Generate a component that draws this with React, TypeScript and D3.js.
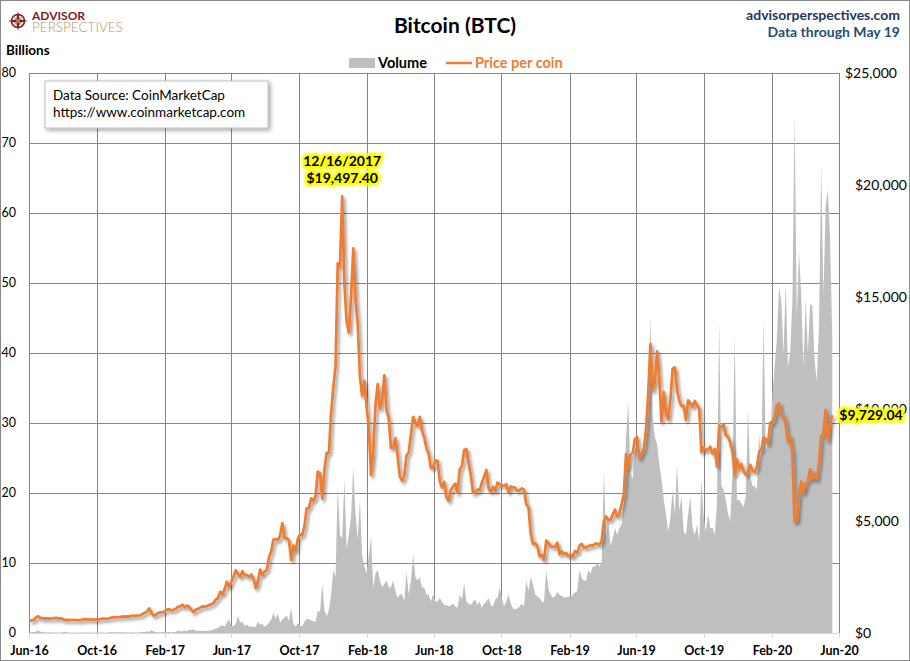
import { useEffect, useRef } from 'react';
import * as d3 from 'd3';

// Samples every 4 days from 2016-06-01 to 2020-05-19
const START_DATE = '2016-06-01';
const STEP_DAYS = 4;

// Price per coin (USD)
const price2016 = [
  536, 574, 575, 705, 748, 667, 665, 640, 658, 640,
  648, 664, 672, 655, 655, 624, 578, 591, 587, 581,
  582, 580, 574, 572, 606, 622, 608, 607, 597, 601,
  605, 610, 617, 641, 638, 636, 657, 688, 700, 704,
  711, 705, 744, 731, 739, 735, 774, 758, 774, 780,
  790, 860, 896, 962,
];
const price2017 = [
  1100, 894, 777, 818, 900, 922, 919, 970, 1045, 1061,
  999, 1040, 1080, 1175, 1190, 1265, 1150, 1225, 1172, 1040,
  935, 1047, 1080, 1130, 1190, 1170, 1205, 1250, 1280, 1345,
  1490, 1560, 1840, 1725, 1960, 2290, 2050, 2290, 2520, 2800,
  2660, 2500, 2760, 2590, 2590, 2500, 2610, 2430, 2000, 2310,
  2830, 2590, 2750, 2810, 3380, 3650, 4170, 4190, 4150, 4350,
  4900, 4230, 4230, 4150, 3250, 3900, 3670, 4200, 4400, 4370,
  4780, 5570, 5570, 6010, 5900, 6130, 7200, 7140, 6000, 7310,
  8040, 8040, 9820, 10980, 11900, 16500, 16400, 19497.4, 15560, 13900,
  13400,
];
const price2018 = [
  14980, 17170, 14970, 13770, 11470, 10580, 11260, 10110, 9170, 7050,
  8130, 10170, 11110, 10010, 10400, 11500, 9940, 9580, 8260, 8280,
  8700, 7880, 6970, 6800, 7020, 7930, 8060, 8860, 9650, 9400,
  9240, 9650, 9030, 8720, 8250, 8000, 7360, 7400, 7700, 7690,
  6780, 6500, 6750, 6050, 5900, 6390, 6550, 6670, 6250, 7320,
  7450, 8170, 8220, 7600, 7030, 6250, 6270, 6400, 6370, 6720,
  6980, 7280, 6450, 6300, 6530, 6340, 6710, 6640, 6590, 6580,
  6640, 6290, 6540, 6500, 6490, 6340, 6380, 6460, 6400, 5740,
  5620, 4450, 3980, 4020, 3880, 3420, 3490, 3250, 4130, 4030,
  3880,
];
const price2019 = [
  3840, 3850, 4030, 3510, 3640, 3540, 3570, 3430, 3520, 3400,
  3660, 3580, 3900, 3980, 3820, 3820, 3870, 3920, 3900, 3990,
  3990, 3930, 4110, 4960, 5200, 5050, 5040, 5290, 5510, 5200,
  5350, 5750, 6190, 7990, 7360, 7950, 8050, 8660, 8740, 7800,
  8020, 8230, 9080, 10700, 12900, 10820, 11220, 12570, 11350, 9430,
  10760, 9840, 9530, 10400, 11800, 11860, 10860, 10360, 10130, 10140,
  9510, 10390, 10260, 10100, 10360, 10160, 10030, 8060, 8290, 8150,
  8200, 8320, 8010, 8220, 7430, 9260, 9200, 9310, 8810, 8760,
  8500, 8080, 7050, 7760, 7320, 7550, 7220, 7070, 7150, 7510,
  7240,
];
const price2020 = [
  7190, 7410, 8080, 8190, 8720, 8660, 8440, 9390, 9390, 9620,
  10170, 10240, 9710, 9700, 9320, 8560, 8760, 8040, 4970, 5010,
  6190, 6760, 6250, 6640, 6780, 7300, 6850, 7100, 6850, 7550,
  8800, 8910, 9950, 8600, 9310, 9729.04,
];

// Volume (billions USD)
const volume2016 = [
  0.10, 0.09, 0.13, 0.22, 0.35, 0.18, 0.12, 0.09, 0.08, 0.11,
  0.08, 0.07, 0.06, 0.06, 0.08, 0.09, 0.18, 0.08, 0.06, 0.06,
  0.05, 0.06, 0.05, 0.07, 0.07, 0.08, 0.07, 0.06, 0.06, 0.05,
  0.06, 0.06, 0.06, 0.07, 0.05, 0.06, 0.09, 0.12, 0.11, 0.12,
  0.10, 0.09, 0.11, 0.10, 0.08, 0.08, 0.10, 0.08, 0.07, 0.08,
  0.09, 0.17, 0.15, 0.20,
];
const volume2017 = [
  0.19, 0.35, 0.22, 0.09, 0.12, 0.09, 0.11, 0.14, 0.12, 0.18,
  0.08, 0.13, 0.12, 0.35, 0.20, 0.28, 0.35, 0.25, 0.45, 0.40,
  0.55, 0.30, 0.30, 0.35, 0.30, 0.30, 0.30, 0.35, 0.40, 0.45,
  0.65, 0.70, 1.0, 1.1, 0.9, 1.5, 2.0, 1.0, 1.0, 1.3,
  2.5, 1.5, 1.6, 1.0, 1.2, 0.9, 0.95, 0.9, 0.85, 1.6,
  1.2, 1.3, 0.9, 1.1, 1.5, 1.9, 2.9, 2.0, 2.8, 1.5,
  1.9, 2.2, 2.5, 1.7, 3.6, 1.3, 0.9, 1.4, 1.0, 1.0,
  1.6, 2.0, 2.0, 1.8, 1.7, 1.6, 3.2, 3.0, 7.0, 3.3,
  2.4, 3.3, 5.5, 9.0, 8.0, 21.0, 14.0, 13.5, 22.0, 12.0,
  14.0,
];
const volume2018 = [
  16.5, 23.8, 17.0, 13.5, 19.0, 11.0, 9.5, 8.5, 11.0, 13.8,
  6.5, 8.5, 9.0, 7.5, 6.5, 7.0, 7.5, 6.5, 6.5, 7.5,
  6.0, 5.0, 5.5, 5.5, 4.5, 8.8, 5.5, 7.5, 11.2, 8.0,
  7.5, 8.0, 6.5, 6.5, 5.5, 5.5, 4.5, 5.5, 4.5, 4.5,
  5.0, 4.5, 4.0, 4.0, 3.8, 4.0, 4.2, 3.8, 3.6, 5.5,
  4.8, 7.2, 4.5, 4.2, 4.0, 4.5, 4.8, 4.0, 4.5, 3.6,
  4.2, 4.5, 5.0, 4.0, 3.8, 4.8, 5.0, 6.5, 5.0, 3.8,
  4.5, 5.5, 4.2, 3.5, 3.4, 3.5, 3.8, 4.2, 3.8, 7.5,
  6.0, 8.0, 7.0, 5.5, 5.2, 5.0, 4.5, 4.4, 9.0, 6.3,
  5.5,
];
const volume2019 = [
  5.0, 5.3, 5.9, 5.5, 5.3, 5.1, 5.1, 5.2, 5.0, 5.5,
  5.8, 6.0, 9.0, 7.8, 7.5, 7.5, 9.0, 8.5, 9.5, 9.5,
  10.0, 9.5, 10.0, 23.0, 13.5, 16.0, 12.5, 13.5, 15.0, 14.0,
  15.0, 15.5, 19.0, 28.0, 33.0, 23.0, 22.0, 26.0, 27.0, 26.0,
  25.0, 27.0, 29.0, 32.0, 45.0, 31.0, 28.0, 27.0, 24.0, 22.0,
  19.0, 17.0, 14.5, 16.5, 20.5, 17.0, 24.0, 17.5, 19.5, 14.5,
  14.0, 17.0, 19.5, 15.0, 14.0, 15.5, 13.0, 22.0, 16.5, 14.5,
  17.0, 15.0, 15.0, 14.0, 18.5, 44.6, 21.0, 20.5, 19.0, 17.0,
  16.0, 23.0, 42.8, 19.0, 19.0, 18.5, 18.0, 19.5, 32.0, 22.5,
  21.0,
];
const volume2020 = [
  21.0, 20.5, 28.5, 24.0, 45.0, 26.0, 27.0, 28.0, 34.0, 38.0,
  42.0, 49.5, 47.3, 40.0, 50.0, 38.0, 40.0, 47.2, 74.2, 45.0,
  54.5, 48.3, 38.0, 47.8, 40.0, 47.0, 46.8, 39.0, 36.0, 43.6,
  67.0, 48.0, 61.0, 63.4, 56.5, 42.0,
];

const volumeTicks = [0, 10, 20, 30, 40, 50, 60, 70, 80];
const priceTicks = [0, 5000, 10000, 15000, 20000, 25000];
const monthTicks = [
  '2016-06-01', '2016-10-01', '2017-02-01', '2017-06-01', '2017-10-01',
  '2018-02-01', '2018-06-01', '2018-10-01', '2019-02-01', '2019-06-01',
  '2019-10-01', '2020-02-01', '2020-06-01',
];

const peakDateLabel = '12/16/2017';
const peakPrice = 19497.4;

const FONT = 'Lato, "Noto Sans", sans-serif';
const ORANGE = '#ED7D31';

export default function App() {
  const svgRef = useRef<SVGSVGElement>(null);

  useEffect(() => {
    if (!svgRef.current) return;
    const svg = d3.select(svgRef.current);
    svg.selectAll('*').remove();

    const width = 910;
    const height = 661;
    const left = 29.5;
    const right = 839.5;
    const top = 73;
    const bottom = 633;

    const prices = [...price2016, ...price2017, ...price2018, ...price2019, ...price2020];
    const volumes = [...volume2016, ...volume2017, ...volume2018, ...volume2019, ...volume2020];
    const t0 = new Date(START_DATE).getTime();
    const dateAt = (i: number) => new Date(t0 + i * STEP_DAYS * 864e5);

    const x = d3.scaleUtc()
      .domain([new Date(monthTicks[0]), new Date(monthTicks[monthTicks.length - 1])])
      .range([left, right]);
    const yVol = d3.scaleLinear().domain([0, 80]).range([bottom, top]);
    const yPrice = d3.scaleLinear().domain([0, 25000]).range([bottom, top]);

    const defs = svg.append('defs');
    const shadow = defs.append('filter').attr('id', 'lineShadow')
      .attr('x', '-5%').attr('y', '-5%').attr('width', '110%').attr('height', '110%');
    shadow.append('feDropShadow')
      .attr('dx', 2).attr('dy', 2.5).attr('stdDeviation', 1.5)
      .attr('flood-color', '#000').attr('flood-opacity', 0.4);
    const boxShadow = defs.append('filter').attr('id', 'boxShadow')
      .attr('x', '-10%').attr('y', '-20%').attr('width', '130%').attr('height', '150%');
    boxShadow.append('feDropShadow')
      .attr('dx', 2).attr('dy', 2).attr('stdDeviation', 2)
      .attr('flood-color', '#000').attr('flood-opacity', 0.35);
    defs.append('filter').attr('id', 'glow')
      .append('feGaussianBlur').attr('stdDeviation', 0.9);

    // Background + frame
    svg.append('rect')
      .attr('x', 0.5).attr('y', 0.5)
      .attr('width', width - 1).attr('height', height - 1)
      .attr('fill', '#fff').attr('stroke', '#898989');

    // Gridlines
    const grid = svg.append('g')
      .attr('stroke', '#868686').attr('stroke-width', 1)
      .attr('shape-rendering', 'crispEdges');
    volumeTicks.filter(v => v > 0).forEach(v => {
      grid.append('line')
        .attr('x1', left).attr('x2', right)
        .attr('y1', yVol(v)).attr('y2', yVol(v));
    });
    monthTicks.forEach(m => {
      const xm = x(new Date(m));
      grid.append('line')
        .attr('x1', xm).attr('x2', xm)
        .attr('y1', top).attr('y2', bottom);
    });

    // Volume area
    const area = d3.area<number>()
      .x((_, i) => x(dateAt(i)))
      .y0(yVol(0))
      .y1(v => yVol(v));
    svg.append('path')
      .attr('d', area(volumes) || '')
      .attr('fill', '#BFBFBF');

    // X axis
    const axis = svg.append('g').attr('stroke', '#D9D9D9').attr('shape-rendering', 'crispEdges');
    axis.append('line')
      .attr('x1', left).attr('x2', right)
      .attr('y1', bottom).attr('y2', bottom);
    monthTicks.forEach(m => {
      const xm = x(new Date(m));
      axis.append('line')
        .attr('x1', xm).attr('x2', xm)
        .attr('y1', bottom).attr('y2', bottom + 5);
    });
    const fmtMonth = d3.utcFormat('%b-%y');
    monthTicks.forEach(m => {
      svg.append('text')
        .attr('x', x(new Date(m)))
        .attr('y', 655)
        .attr('text-anchor', 'middle')
        .attr('font-family', FONT)
        .attr('font-size', 12.5)
        .attr('font-weight', 700)
        .attr('fill', '#000')
        .text(fmtMonth(new Date(m)));
    });

    // Left axis labels
    volumeTicks.forEach(v => {
      svg.append('text')
        .attr('x', 16)
        .attr('y', yVol(v))
        .attr('dy', '0.35em')
        .attr('text-anchor', 'end')
        .attr('font-family', FONT)
        .attr('font-size', 12.5)
        .attr('fill', '#000')
        .text(String(v));
    });

    // Right axis labels
    const fmtDollar = d3.format('$,');
    priceTicks.forEach(p => {
      svg.append('text')
        .attr('x', p === 25000 ? 845 : 855)
        .attr('y', yPrice(p))
        .attr('dy', '0.35em')
        .attr('font-family', FONT)
        .attr('font-size', 14)
        .attr('fill', '#000')
        .text(fmtDollar(p));
    });

    // Price line
    const line = d3.line<number>()
      .x((_, i) => x(dateAt(i)))
      .y(p => yPrice(p));
    svg.append('path')
      .attr('d', line(prices) || '')
      .attr('fill', 'none')
      .attr('stroke', ORANGE)
      .attr('stroke-width', 2.7)
      .attr('stroke-linejoin', 'round')
      .attr('filter', 'url(#lineShadow)');

    // Highlighted labels
    const highlight = (tx: number, ty: number, text: string, anchor: string) => {
      const g = svg.append('g')
        .attr('font-family', FONT)
        .attr('font-size', 14)
        .attr('font-weight', 700)
        .attr('text-anchor', anchor);
      g.append('text')
        .attr('x', tx).attr('y', ty)
        .attr('fill', '#FFFF00')
        .attr('stroke', '#FFFF00')
        .attr('stroke-width', 6)
        .attr('stroke-linejoin', 'round')
        .attr('filter', 'url(#glow)')
        .text(text);
      g.append('text')
        .attr('x', tx).attr('y', ty)
        .attr('fill', '#000')
        .text(text);
    };
    const fmtPrice = d3.format('$,.2f');
    const peakIdx = prices.indexOf(d3.max(prices) as number);
    const peakX = x(dateAt(peakIdx));
    highlight(peakX, yPrice(peakPrice) - 30, peakDateLabel, 'middle');
    highlight(peakX, yPrice(peakPrice) - 13, fmtPrice(peakPrice), 'middle');
    const lastIdx = prices.length - 1;
    highlight(x(dateAt(lastIdx)) + 7, yPrice(prices[lastIdx]) + 5, fmtPrice(prices[lastIdx]), 'start');

    // Data source box
    svg.append('rect')
      .attr('x', 45).attr('y', 81).attr('width', 223).attr('height', 47)
      .attr('fill', '#fff').attr('stroke', '#BFBFBF')
      .attr('filter', 'url(#boxShadow)');
    ['Data Source: CoinMarketCap', 'https://www.coinmarketcap.com'].forEach((s, i) => {
      svg.append('text')
        .attr('x', 53).attr('y', 100 + i * 17)
        .attr('font-family', FONT)
        .attr('font-size', 13.5)
        .attr('fill', '#000')
        .text(s);
    });

    // Title
    svg.append('text')
      .attr('x', 455).attr('y', 33)
      .attr('text-anchor', 'middle')
      .attr('font-family', FONT)
      .attr('font-size', 21)
      .attr('font-weight', 700)
      .attr('fill', '#000')
      .text('Bitcoin (BTC)');

    // Top right
    svg.append('text')
      .attr('x', 900).attr('y', 20)
      .attr('text-anchor', 'end')
      .attr('font-family', FONT).attr('font-size', 14).attr('font-weight', 700)
      .attr('fill', '#1F3864')
      .text('advisorperspectives.com');
    svg.append('text')
      .attr('x', 900).attr('y', 37)
      .attr('text-anchor', 'end')
      .attr('font-family', FONT).attr('font-size', 14).attr('font-weight', 700)
      .attr('fill', '#1F4E79')
      .text('Data through May 19');

    // Billions
    svg.append('text')
      .attr('x', 6).attr('y', 55)
      .attr('font-family', FONT).attr('font-size', 13.5).attr('font-weight', 700)
      .attr('fill', '#000')
      .text('Billions');

    // Legend
    const legend = svg.append('g').attr('font-family', FONT).attr('font-size', 14.5).attr('font-weight', 700);
    legend.append('rect').attr('x', 349).attr('y', 58).attr('width', 26).attr('height', 10).attr('fill', '#BFBFBF');
    legend.append('text').attr('x', 378).attr('y', 67.5).attr('fill', '#000').text('Volume');
    legend.append('line').attr('x1', 446).attr('x2', 472).attr('y1', 63).attr('y2', 63)
      .attr('stroke', ORANGE).attr('stroke-width', 2.5);
    legend.append('text').attr('x', 475).attr('y', 67.5).attr('fill', ORANGE).text('Price per coin');

    // Logo
    const logo = svg.append('g');
    logo.append('circle').attr('cx', 18).attr('cy', 21).attr('r', 6.5)
      .attr('fill', 'none').attr('stroke', '#7B2128').attr('stroke-width', 1.6);
    logo.append('path')
      .attr('d', 'M18,11 L19.8,19.2 L28,21 L19.8,22.8 L18,31 L16.2,22.8 L8,21 L16.2,19.2 Z')
      .attr('fill', '#7B2128');
    logo.append('path')
      .attr('d', 'M12.5,15.5 L18,19.5 L23.5,15.5 L19.5,21 L23.5,26.5 L18,22.5 L12.5,26.5 L16.5,21 Z')
      .attr('fill', '#B8975A').attr('opacity', 0.8);
    logo.append('text').attr('x', 32).attr('y', 19.5)
      .attr('font-family', FONT).attr('font-size', 12).attr('font-weight', 700)
      .attr('fill', '#7B2128').text('ADVISOR');
    logo.append('text').attr('x', 32).attr('y', 32)
      .attr('font-family', FONT).attr('font-size', 13.5).attr('font-weight', 300)
      .attr('fill', '#B8975A').text('PERSPECTIVES');
  }, []);

  return (
    <svg
      ref={svgRef}
      width={910}
      height={661}
      viewBox="0 0 910 661"
      style={{ position: 'absolute', left: 0, top: 0, display: 'block' }}
    />
  );
}
